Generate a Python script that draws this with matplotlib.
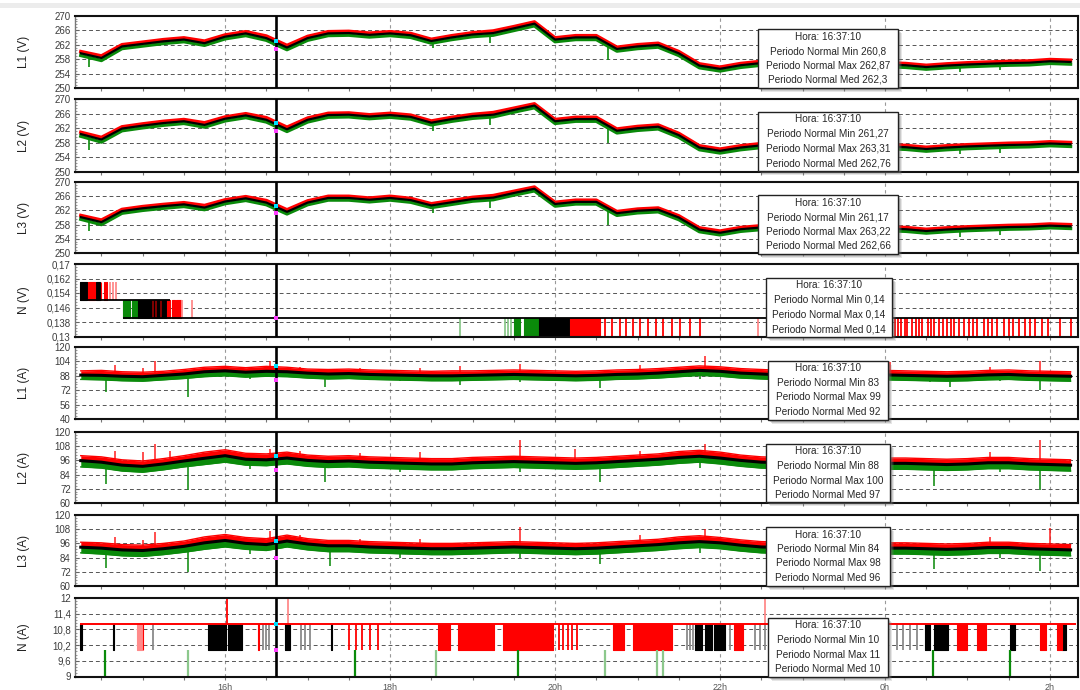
import numpy as np
import matplotlib
matplotlib.use("Agg")
import matplotlib.pyplot as plt
from matplotlib.patches import Rectangle
from matplotlib.ticker import FixedLocator, MultipleLocator, FuncFormatter, AutoMinorLocator

plt.rcParams['font.family'] = ['Liberation Sans', 'DejaVu Sans']

# ------------------------------------------------------------------ data
# 15-minute integration instants, in hours counted from midnight of day 1
hours = np.arange(14.25, 26.26, 0.25)
hour_ticks = [16, 18, 20, 22, 24, 26]
hour_labels = ['16h', '18h', '20h', '22h', '0h', '2h']
cursor_h = 16 + 37 / 60 + 10 / 3600
cursor_text = 'Hora: 16:37:10'

# phase voltages (V): max / mean / min per interval
l1v_med = [259.6, 258.3, 261.5, 262.2, 262.9, 263.4, 262.4, 264.2, 265.1, 263.8, 261.2, 263.8, 265.1, 265.2, 264.7, 265.1, 264.6, 263.0, 264.0, 264.8, 265.2, 266.5, 267.8, 263.4, 264.0, 264.0, 260.8, 261.5, 261.9, 259.6, 256.2, 255.3, 256.3, 256.9, 256.6, 256.4, 256.2, 256.0, 256.3, 256.5, 256.3, 255.8, 256.2, 256.5, 256.7, 256.9, 257.0, 257.4, 257.2]
l1v_max = [260.1, 258.9, 262.0, 262.7, 263.4, 263.9, 263.0, 264.7, 265.6, 264.4, 261.8, 264.3, 265.6, 265.7, 265.2, 265.6, 265.1, 263.5, 264.5, 265.3, 265.8, 267.0, 268.3, 263.9, 264.5, 264.5, 261.3, 262.0, 262.4, 260.1, 256.7, 255.8, 256.8, 257.4, 257.1, 256.9, 256.7, 256.5, 256.8, 257.0, 256.8, 256.3, 256.7, 257.0, 257.2, 257.4, 257.5, 257.9, 257.7]
l1v_min = [259.0, 257.6, 260.9, 261.6, 262.3, 262.8, 261.8, 263.6, 264.5, 263.2, 260.6, 263.2, 264.5, 264.6, 264.1, 264.5, 264.0, 262.4, 263.4, 264.2, 264.6, 265.9, 267.2, 262.8, 263.4, 263.4, 260.2, 260.9, 261.3, 259.0, 255.6, 254.7, 255.7, 256.3, 256.0, 255.8, 255.6, 255.4, 255.7, 255.9, 255.7, 255.2, 255.6, 255.9, 256.1, 256.3, 256.4, 256.8, 256.6]

l2v_med = [260.4, 258.9, 261.9, 262.7, 263.4, 263.9, 262.9, 264.6, 265.5, 264.3, 261.7, 264.3, 265.6, 265.7, 265.2, 265.6, 265.1, 263.5, 264.5, 265.3, 265.7, 267.0, 268.2, 263.9, 264.5, 264.5, 261.3, 262.0, 262.4, 260.1, 256.7, 255.8, 256.7, 257.3, 257.0, 256.9, 256.7, 256.5, 256.8, 257.0, 256.8, 256.3, 256.7, 257.0, 257.2, 257.4, 257.5, 257.8, 257.6]
l2v_max = [260.9, 259.5, 262.4, 263.2, 263.9, 264.4, 263.5, 265.1, 266.0, 264.9, 262.3, 264.8, 266.1, 266.2, 265.7, 266.1, 265.6, 264.0, 265.0, 265.8, 266.3, 267.5, 268.7, 264.4, 265.0, 265.0, 261.8, 262.5, 262.9, 260.6, 257.2, 256.3, 257.2, 257.8, 257.5, 257.4, 257.2, 257.0, 257.3, 257.5, 257.3, 256.8, 257.2, 257.5, 257.7, 257.9, 258.0, 258.3, 258.1]
l2v_min = [259.8, 258.2, 261.3, 262.1, 262.8, 263.3, 262.3, 264.0, 264.9, 263.7, 261.1, 263.7, 265.0, 265.1, 264.6, 265.0, 264.5, 262.9, 263.9, 264.7, 265.1, 266.4, 267.6, 263.3, 263.9, 263.9, 260.7, 261.4, 261.8, 259.5, 256.1, 255.2, 256.1, 256.7, 256.4, 256.3, 256.1, 255.9, 256.2, 256.4, 256.2, 255.7, 256.1, 256.4, 256.6, 256.8, 256.9, 257.2, 257.0]

l3v_med = [260.1, 258.7, 261.8, 262.6, 263.2, 263.7, 262.8, 264.5, 265.4, 264.2, 261.6, 264.2, 265.5, 265.5, 265.0, 265.5, 264.9, 263.4, 264.3, 265.2, 265.6, 266.9, 268.1, 263.8, 264.4, 264.4, 261.2, 261.9, 262.2, 260.0, 256.6, 255.7, 256.7, 257.2, 256.9, 256.8, 256.6, 256.4, 256.7, 256.9, 256.7, 256.2, 256.6, 256.9, 257.1, 257.3, 257.4, 257.7, 257.5]
l3v_max = [260.6, 259.3, 262.3, 263.1, 263.7, 264.2, 263.4, 265.0, 265.9, 264.8, 262.2, 264.7, 266.0, 266.0, 265.5, 266.0, 265.4, 263.9, 264.8, 265.7, 266.2, 267.4, 268.6, 264.3, 264.9, 264.9, 261.7, 262.4, 262.7, 260.5, 257.1, 256.2, 257.2, 257.7, 257.4, 257.3, 257.1, 256.9, 257.2, 257.4, 257.2, 256.7, 257.1, 257.4, 257.6, 257.8, 257.9, 258.2, 258.0]
l3v_min = [259.5, 258.0, 261.2, 262.0, 262.6, 263.1, 262.2, 263.9, 264.8, 263.6, 261.0, 263.6, 264.9, 264.9, 264.4, 264.9, 264.3, 262.8, 263.7, 264.6, 265.0, 266.3, 267.5, 263.2, 263.8, 263.8, 260.6, 261.3, 261.6, 259.4, 256.0, 255.1, 256.1, 256.6, 256.3, 256.2, 256.0, 255.8, 256.1, 256.3, 256.1, 255.6, 256.0, 256.3, 256.5, 256.7, 256.8, 257.1, 256.9]

# short voltage sags seen in the minimum channel
v_dip_h = [14.35, 18.52, 19.21, 20.64, 24.91, 25.39]
l1v_dip = [255.8, 261.0, 262.5, 257.8, 254.5, 255.0]
l2v_dip = [256.0, 261.3, 262.8, 258.0, 254.8, 255.2]
l3v_dip = [256.2, 261.2, 262.7, 258.0, 254.6, 255.1]

# phase currents (A)
l1a_med = [88.8, 88.5, 87.5, 87.0, 88.5, 90.0, 92.5, 93.5, 92.0, 93.0, 92.5, 91.0, 90.0, 90.5, 89.5, 89.0, 88.5, 88.0, 88.0, 88.5, 89.0, 89.5, 89.0, 88.5, 88.0, 88.5, 89.5, 90.0, 91.0, 92.5, 94.0, 93.0, 91.0, 90.0, 89.0, 88.5, 88.0, 88.5, 89.0, 89.0, 88.5, 88.0, 87.5, 88.0, 89.0, 89.5, 88.5, 88.0, 87.5]
l1a_max = [93.5, 94.0, 92.5, 92.0, 93.0, 95.0, 97.5, 98.5, 97.0, 98.5, 97.5, 95.5, 95.0, 95.5, 94.5, 94.0, 93.5, 93.0, 93.5, 93.5, 94.0, 94.5, 94.0, 93.5, 93.0, 93.5, 94.5, 95.0, 96.0, 97.5, 99.0, 98.0, 96.0, 95.0, 94.0, 93.5, 93.0, 93.5, 94.0, 94.0, 93.5, 93.0, 92.5, 93.0, 94.0, 94.5, 93.5, 93.0, 92.5]
l1a_min = [84.0, 83.5, 82.5, 82.0, 83.5, 85.0, 87.0, 88.0, 86.5, 87.5, 87.0, 85.5, 84.5, 85.0, 84.0, 83.5, 83.0, 82.5, 82.5, 83.0, 83.5, 84.0, 83.5, 83.0, 82.5, 83.0, 84.0, 84.5, 85.5, 87.0, 88.5, 87.5, 85.5, 84.5, 83.5, 83.0, 82.5, 83.0, 83.5, 83.5, 83.0, 82.5, 82.0, 82.5, 83.5, 84.0, 83.0, 82.5, 82.0]
l1a_peak_h = [14.66, 15.00, 15.15, 16.54, 16.91, 17.63, 18.36, 18.85, 19.57, 21.03, 21.82, 23.21, 24.06, 25.27, 25.88]
l1a_peak = [100, 97, 104, 104, 98, 97, 97, 99, 101, 100, 110, 97, 103, 98, 104]
l1a_dip_h = [14.56, 15.55, 16.30, 17.21, 18.12, 18.85, 19.57, 20.54, 21.76, 24.54, 24.79, 25.39, 25.88]
l1a_dip = [70, 65, 84, 76, 82, 78, 81, 75, 84, 81, 76, 82, 72]

l2a_med = [95.8, 94.5, 92.0, 91.0, 93.0, 95.5, 97.8, 100.0, 97.0, 96.5, 98.0, 96.0, 95.0, 95.5, 94.5, 94.0, 93.5, 93.0, 93.0, 94.0, 94.5, 95.0, 94.5, 94.0, 93.5, 94.0, 95.0, 96.0, 97.0, 98.5, 99.5, 98.0, 96.0, 94.5, 94.0, 93.5, 93.5, 94.0, 94.0, 93.5, 93.5, 93.0, 92.5, 93.0, 94.0, 94.0, 93.0, 92.5, 92.0]
l2a_max = [100.0, 99.0, 96.5, 95.5, 97.5, 100.0, 103.0, 105.0, 102.0, 101.5, 103.0, 100.5, 99.5, 100.0, 99.0, 98.5, 98.0, 97.5, 97.5, 98.5, 99.0, 99.5, 99.0, 98.5, 98.0, 98.5, 99.5, 100.5, 101.5, 103.5, 104.5, 103.0, 100.5, 99.0, 98.5, 98.0, 98.0, 98.5, 98.5, 98.0, 98.0, 97.5, 97.0, 97.5, 98.5, 98.5, 97.5, 97.0, 96.5]
l2a_min = [90.5, 89.5, 87.0, 86.0, 88.0, 90.5, 92.5, 94.5, 92.0, 91.5, 93.0, 91.0, 90.0, 90.5, 89.5, 89.0, 88.5, 88.0, 88.0, 89.0, 89.5, 90.0, 89.5, 89.0, 88.5, 89.0, 90.0, 91.0, 92.0, 93.5, 94.5, 93.0, 91.0, 89.5, 89.0, 88.5, 88.5, 89.0, 89.0, 88.5, 88.5, 88.0, 87.5, 88.0, 89.0, 89.0, 88.0, 87.5, 87.0]
l2a_peak_h = [14.66, 15.00, 15.15, 15.33, 16.54, 16.91, 17.63, 18.36, 19.57, 20.24, 21.03, 21.82, 23.21, 24.06, 25.27, 25.88]
l2a_peak = [104, 103, 109.5, 104, 106, 104, 102, 103, 113, 106, 104, 110, 102, 104, 103, 113]
l2a_dip_h = [14.56, 15.55, 16.30, 17.21, 18.12, 19.57, 20.54, 21.76, 24.60, 25.39, 25.88]
l2a_dip = [76, 71, 89, 78, 86, 86, 78, 90, 74, 86, 71]

l3a_med = [92.8, 92.0, 90.5, 90.0, 91.5, 93.5, 96.5, 98.5, 96.0, 95.0, 98.0, 95.5, 94.0, 94.0, 93.0, 92.5, 92.0, 91.5, 91.5, 92.0, 92.5, 93.0, 92.5, 92.0, 91.5, 92.0, 93.0, 94.0, 95.0, 96.5, 97.5, 96.5, 94.5, 93.0, 92.5, 92.0, 92.0, 92.5, 92.5, 92.0, 92.0, 91.5, 91.0, 91.5, 92.5, 92.5, 91.5, 91.0, 90.5]
l3a_max = [97.0, 96.5, 95.0, 94.5, 96.0, 98.0, 101.5, 103.5, 101.0, 100.0, 103.0, 100.0, 98.5, 98.5, 97.5, 97.0, 96.5, 96.0, 96.0, 96.5, 97.0, 97.5, 97.0, 96.5, 96.0, 96.5, 97.5, 98.5, 99.5, 101.5, 102.5, 101.0, 99.0, 97.5, 97.0, 96.5, 96.5, 97.0, 97.0, 96.5, 96.5, 96.0, 95.5, 96.0, 97.0, 97.0, 96.0, 95.5, 95.0]
l3a_min = [88.0, 87.0, 85.5, 85.0, 86.5, 88.5, 91.0, 93.0, 91.0, 90.0, 93.0, 90.5, 89.0, 89.0, 88.0, 87.5, 87.0, 86.5, 86.5, 87.0, 87.5, 88.0, 87.5, 87.0, 86.5, 87.0, 88.0, 89.0, 90.0, 91.5, 92.5, 91.5, 89.5, 88.0, 87.5, 87.0, 87.0, 87.5, 87.5, 87.0, 87.0, 86.5, 86.0, 86.5, 87.5, 87.5, 86.5, 86.0, 85.5]
l3a_peak_h = [14.66, 15.00, 15.15, 16.54, 16.91, 17.63, 18.36, 19.57, 21.03, 21.82, 23.21, 24.06, 25.27, 26.00]
l3a_peak = [101, 99, 106, 106.5, 103, 100, 100, 110, 103, 108, 100, 104, 101, 109]
l3a_dip_h = [14.56, 15.55, 16.30, 17.27, 18.12, 19.57, 20.54, 21.76, 24.60, 25.39, 25.88]
l3a_dip = [74.8, 72, 87, 77, 84, 84, 79, 88, 74, 84, 73]

# neutral voltage (V): quantised levels and toggling intervals (start, end)
nv_level_start = [14.24, 14.76]
nv_level_end = [15.33, 26.34]
nv_level = [0.15, 0.14]
nv_upper = (0.15, 0.16)
nv_upper_med = [(14.24, 14.33), (14.44, 14.48)]
nv_upper_max = [(14.34, 14.42), (14.49, 14.50), (14.53, 14.54), (14.56, 14.57)]
nv_upper_max_faint = [14.60, 14.64, 14.68]
nv_mid = (0.14, 0.15)
nv_mid_min = [(14.76, 14.81), (14.82, 14.85), (14.87, 14.88), (14.90, 14.94)]
nv_mid_med = [(14.94, 15.09), (15.10, 15.29)]
nv_mid_med_dark = [15.12, 15.16, 15.22]
nv_mid_max = [(15.30, 15.33), (15.35, 15.39), (15.41, 15.46)]
nv_mid_max_faint = [15.48, 15.60]
nv_low = (0.13, 0.14)
nv_low_min_faint = [18.85, 19.39, 19.43, 19.47]
nv_low_min = [(19.50, 19.57), (19.62, 19.79)]
nv_low_med = [(19.80, 20.18)]
nv_low_max = [(20.18, 20.54)]
nv_low_max_lines = [20.60, 20.69, 20.79, 20.86, 20.94, 21.03, 21.13, 21.22, 21.31, 21.42, 21.51, 21.63, 21.76,
                    24.12, 24.16, 24.19, 24.24, 24.27, 24.33, 24.37, 24.41, 24.45, 24.52, 24.56, 24.60, 24.66,
                    24.70, 24.75, 24.80, 24.84, 24.90, 24.96, 25.02, 25.07, 25.12, 25.20, 25.25, 25.30, 25.36,
                    25.44, 25.50, 25.55, 25.62, 25.70, 25.76, 25.82, 25.90, 25.98, 26.12, 26.26]
nv_low_max_faint = [22.46]

# neutral current (A): integer-quantised channels
na_max_level = 11
na_span = (14.24, 26.32)
na_band = (10, 11)
na_med_runs = [(14.24, 14.26), (14.64, 14.65), (15.79, 16.01), (16.04, 16.20), (16.72, 16.79), (17.28, 17.29),
               (21.70, 21.78), (21.82, 21.90), (21.93, 22.06), (24.48, 24.55), (24.60, 24.76), (25.51, 25.58),
               (26.14, 26.20)]
na_med_faint = [15.13, 16.46, 16.50, 16.53, 16.92, 16.97, 17.03, 21.60, 21.64, 21.67, 22.12, 22.20,
                22.42, 22.48, 22.54, 24.14, 24.22, 24.30, 24.39]
na_max_runs = [(15.00, 15.01), (16.40, 16.41), (18.58, 18.73), (18.82, 19.26), (19.37, 19.97), (20.70, 20.83),
               (20.94, 21.42), (22.17, 22.28), (24.87, 25.00), (25.11, 25.22), (25.88, 25.95), (26.08, 26.14)]
na_max_lines = [17.50, 17.59, 17.66, 17.76, 17.85, 20.05, 20.10, 20.16, 20.21, 20.26]
na_max_faint_runs = [(14.93, 14.99)]
na_low_band = (9, 10)
na_min_lines = [14.54, 17.57, 19.55, 24.58, 25.51]
na_min_faint = [15.55, 18.56, 20.60, 21.23, 21.31]
na_peak_band = (11, 12)
na_peak_lines = [16.02]
na_peak_faint = [16.76, 22.54]

# values reported for the cursor instant (min, max, mean)
cursor_min = [260.8, 261.27, 261.17, 0.14, 83, 88, 84, 10]
cursor_max = [262.87, 263.31, 263.22, 0.14, 99, 100, 98, 11]
cursor_med = [262.3, 262.76, 262.66, 0.14, 92, 97, 96, 10]

panel_names = ['L1 (V)', 'L2 (V)', 'L3 (V)', 'N (V)', 'L1 (A)', 'L2 (A)', 'L3 (A)', 'N (A)']
panel_limits = [(250, 270), (250, 270), (250, 270), (0.13, 0.17), (40, 120), (60, 120), (60, 120), (9, 12)]
panel_ticks = [[250, 254, 258, 262, 266, 270]] * 3 + [[0.13, 0.138, 0.146, 0.154, 0.162, 0.17],
               [40, 56, 72, 88, 104, 120], [60, 72, 84, 96, 108, 120], [60, 72, 84, 96, 108, 120],
               [9, 9.6, 10.2, 10.8, 11.4, 12]]

# ------------------------------------------------------------------ layout / style
W, H = 1080, 690
AX_L, AX_R = 75, 1078
X_LO, X_HI = 14.18, 26.34
rows = [(15.7, 88), (99, 172), (182, 253), (264, 336.5), (347, 419), (432, 503), (515, 586), (598, 676.5)]
boxes = [(758, 29, 898, 88), (758, 112, 898, 171), (758, 195, 898, 254), (766, 278, 892, 337),
         (768, 361, 888, 420), (766, 444, 890, 502), (766, 527, 890, 586), (768, 618, 888, 677)]
RED, GREEN, BLACK = '#ff0000', '#0a8a0a', '#000000'
RED_FAINT, GREEN_FAINT, GRAY = '#ff8a8a', '#8cc88c', '#8a8a8a'

fig = plt.figure(figsize=(W / 100, H / 100), dpi=100)
fig.patch.set_facecolor('white')
fig.add_artist(Rectangle((0, 1 - 8 / H), 1, 5 / H, transform=fig.transFigure,
                         facecolor='#ececec', edgecolor='none', zorder=0))


def comma_fmt(v, _pos):
    return ('%g' % round(v, 4)).replace('.', ',')


def make_axes(i):
    top, bot = rows[i]
    ax = fig.add_axes([AX_L / W, 1 - bot / H, (AX_R - AX_L) / W, (bot - top) / H])
    ax.set_xlim(X_LO, X_HI)
    ax.set_ylim(*panel_limits[i])
    ax.set_axisbelow(True)
    ax.yaxis.set_major_locator(FixedLocator(panel_ticks[i]))
    ax.yaxis.set_major_formatter(FuncFormatter(comma_fmt))
    ax.yaxis.set_minor_locator(AutoMinorLocator(5))
    ax.xaxis.set_major_locator(FixedLocator(hour_ticks))
    ax.xaxis.set_minor_locator(MultipleLocator(0.5))
    ax.tick_params(axis='y', which='major', direction='in', length=3, width=0.8, color='#666',
                   labelsize=7, labelcolor='#3c3c3c', pad=3)
    ax.tick_params(axis='y', which='minor', direction='in', length=1.6, width=0.6, color='#888')
    ax.tick_params(axis='x', which='both', direction='out', length=2.5, width=0.8, color='#777',
                   labelsize=6.5, labelcolor='#555', pad=2)
    if i == len(rows) - 1:
        ax.set_xticklabels(hour_labels)
    else:
        ax.tick_params(axis='x', labelbottom=False)
    ax.grid(axis='y', which='major', linestyle=(0, (4, 3)), color='#555', lw=0.7)
    ax.grid(axis='x', which='major', linestyle=(0, (3, 3)), color='#999', lw=0.8)
    for side in ('top', 'bottom', 'right'):
        ax.spines[side].set_color('#111')
        ax.spines[side].set_linewidth(1.5)
    ax.spines['left'].set_color('#777')
    ax.spines['left'].set_linewidth(1.0)
    fig.text(24 / W, 1 - (top + bot) / 2 / H, panel_names[i], rotation=90, ha='center', va='center',
             fontsize=8.5, color='#222')
    return ax


def draw_voltage(ax, mx, md, mn, dip):
    ax.plot(hours, mn, color=GREEN, lw=2.4, zorder=2)
    ax.plot(hours, mx, color=RED, lw=2.4, zorder=2)
    ax.vlines(v_dip_h, dip, np.interp(v_dip_h, hours, mn), color=GREEN, lw=1.2, zorder=2)
    ax.plot(hours, md, color=BLACK, lw=1.6, zorder=3)


def draw_current(ax, mx, md, mn, up_h, up, dn_h, dn):
    ax.fill_between(hours, md, mx, color=RED, lw=0, zorder=2)
    ax.fill_between(hours, mn, md, color=GREEN, lw=0, zorder=2)
    ax.plot(hours, mx, color=RED, lw=1.0, zorder=2)
    ax.plot(hours, mn, color=GREEN, lw=1.0, zorder=2)
    ax.vlines(up_h, np.interp(up_h, hours, md), up, color=RED, lw=1.3, alpha=0.75, zorder=2)
    ax.vlines(dn_h, dn, np.interp(dn_h, hours, md), color=GREEN, lw=1.4, alpha=0.8, zorder=2)
    ax.plot(hours, md, color=BLACK, lw=2.2, zorder=3)


def draw_runs(ax, runs, band, color):
    for a, b in runs:
        ax.fill_between([a, b], [band[0], band[0]], [band[1], band[1]], color=color,
                        lw=0.8, edgecolor=color, zorder=2)


def draw_lines(ax, times, band, color, lw=1.3):
    ax.vlines(times, band[0], band[1], color=color, lw=lw, zorder=2)


axes = [make_axes(i) for i in range(len(rows))]

draw_voltage(axes[0], l1v_max, l1v_med, l1v_min, l1v_dip)
draw_voltage(axes[1], l2v_max, l2v_med, l2v_min, l2v_dip)
draw_voltage(axes[2], l3v_max, l3v_med, l3v_min, l3v_dip)

ax = axes[3]
ax.hlines(nv_level, nv_level_start, nv_level_end, color=BLACK, lw=1.3, zorder=3)
draw_runs(ax, nv_upper_med, nv_upper, BLACK)
draw_runs(ax, nv_upper_max, nv_upper, RED)
draw_lines(ax, nv_upper_max_faint, nv_upper, RED_FAINT)
draw_runs(ax, nv_mid_min, nv_mid, GREEN)
draw_runs(ax, nv_mid_med, nv_mid, BLACK)
draw_lines(ax, nv_mid_med_dark, nv_mid, '#8b0000')
draw_runs(ax, nv_mid_max, nv_mid, RED)
draw_lines(ax, nv_mid_max_faint, nv_mid, RED_FAINT)
draw_lines(ax, nv_low_min_faint, nv_low, GREEN_FAINT)
draw_runs(ax, nv_low_min, nv_low, GREEN)
draw_runs(ax, nv_low_med, nv_low, BLACK)
draw_runs(ax, nv_low_max, nv_low, RED)
draw_lines(ax, nv_low_max_lines, nv_low, RED)
draw_lines(ax, nv_low_max_faint, nv_low, RED_FAINT)

draw_current(axes[4], l1a_max, l1a_med, l1a_min, l1a_peak_h, l1a_peak, l1a_dip_h, l1a_dip)
draw_current(axes[5], l2a_max, l2a_med, l2a_min, l2a_peak_h, l2a_peak, l2a_dip_h, l2a_dip)
draw_current(axes[6], l3a_max, l3a_med, l3a_min, l3a_peak_h, l3a_peak, l3a_dip_h, l3a_dip)

ax = axes[7]
ax.hlines(na_max_level, *na_span, color=RED, lw=1.4, zorder=3)
draw_runs(ax, na_max_faint_runs, na_band, RED_FAINT)
draw_runs(ax, na_med_runs, na_band, BLACK)
draw_lines(ax, na_med_faint, na_band, GRAY)
draw_runs(ax, na_max_runs, na_band, RED)
draw_lines(ax, na_max_lines, na_band, RED)
draw_lines(ax, na_min_lines, na_low_band, GREEN, lw=1.6)
draw_lines(ax, na_min_faint, na_low_band, GREEN_FAINT, lw=1.6)
draw_lines(ax, na_peak_lines, na_peak_band, RED)
draw_lines(ax, na_peak_faint, na_peak_band, RED_FAINT)

# cursor line with the max / min markers of the selected interval
for i, ax in enumerate(axes):
    ax.axvline(cursor_h, color=BLACK, lw=1.9, zorder=4)
    ax.plot([cursor_h], [cursor_max[i]], marker='s', ms=2.2, color='#00e0ff', mew=0, zorder=5)
    ax.plot([cursor_h], [cursor_min[i]], marker='s', ms=2.2, color='#ff40ff', mew=0, zorder=5)


def fmt_val(v):
    return comma_fmt(v, None)


def tooltip(box, mn, mx, md):
    x0, y0, x1, y1 = box
    for off, a in [(4, 0.18), (3, 0.25), (2, 0.3)]:
        fig.add_artist(Rectangle(((x0 + off) / W, 1 - (y1 + off) / H), (x1 - x0) / W, (y1 - y0) / H,
                                 transform=fig.transFigure, facecolor='#777', edgecolor='none',
                                 alpha=a, zorder=5))
    fig.add_artist(Rectangle((x0 / W, 1 - y1 / H), (x1 - x0) / W, (y1 - y0) / H, transform=fig.transFigure,
                             facecolor='white', edgecolor='#222', lw=1.0, zorder=6))
    lines = [cursor_text,
             'Periodo Normal Min ' + fmt_val(mn),
             'Periodo Normal Max ' + fmt_val(mx),
             'Periodo Normal Med ' + fmt_val(md)]
    for k, s in enumerate(lines):
        fig.text((x0 + x1) / 2 / W, 1 - (y0 + 7.5 + 14.5 * k) / H, s, ha='center', va='center',
                 fontsize=7.2, color='#262626', zorder=7)


for i in range(len(rows)):
    tooltip(boxes[i], cursor_min[i], cursor_max[i], cursor_med[i])

fig.savefig('out.png', dpi=100, facecolor='white')
